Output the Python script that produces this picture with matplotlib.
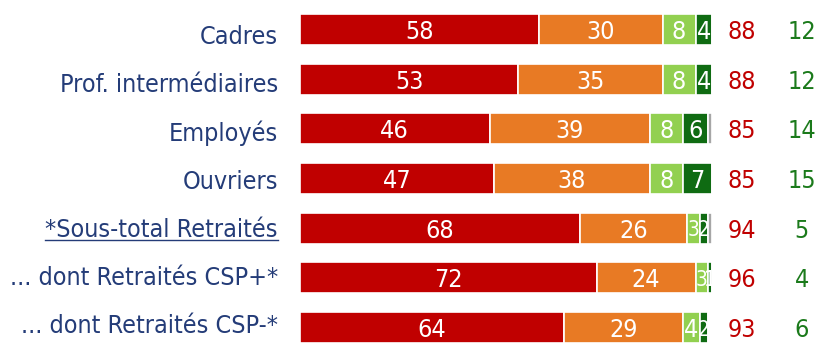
import numpy as np
import matplotlib
matplotlib.use('Agg')
import matplotlib.pyplot as plt
from matplotlib.lines import Line2D

#%% data

categories = ['Cadres', 'Prof. intermédiaires', 'Employés', 'Ouvriers',
              '*Sous-total Retraités', '... dont Retraités CSP+*', '... dont Retraités CSP-*']
tout_a_fait = [58, 53, 46, 47, 68, 72, 64]
plutot = [30, 35, 39, 38, 26, 24, 29]
plutot_pas = [8, 8, 8, 8, 3, 3, 4]
pas_du_tout = [4, 4, 6, 7, 2, 1, 2]
nsp = [0, 0, 1, 0, 1, 0, 0]
total_oui = [88, 88, 85, 85, 94, 96, 93]
total_non = [12, 12, 14, 15, 5, 4, 6]

series = [tout_a_fait, plutot, plutot_pas, pas_du_tout, nsp]
colors = ['#C00000', '#E87A24', '#92D050', '#0F6B12', '#A6A6A6']
navy = '#243C78'

plt.rcParams['font.family'] = ['DejaVu Sans']
plt.rcParams['font.stretch'] = 'condensed'
FS = 18

#%% plot

fig = plt.figure(figsize=(8.21, 3.45), dpi=100)
ax = fig.add_axes([300 / 821, 0, 412 / 821, 1])

y = np.arange(len(categories))
left = np.zeros(len(categories))
for vals, col in zip(series, colors):
    vals = np.array(vals, dtype=float)
    bars = ax.barh(y, vals, left=left, height=0.62, color=col,
                   edgecolor='white', linewidth=1.2)
    if col != colors[-1]:
        for b, v in zip(bars, vals):
            if v <= 0:
                continue
            t = ax.text(b.get_x() + b.get_width() / 2, b.get_y() + b.get_height() / 2,
                        f'{int(v)}', ha='center', va='center_baseline', color='white',
                        fontsize=FS if v >= 4 else 15)
            t.set_clip_path(b)
    left += vals

for yi, a, b in zip(y, total_oui, total_non):
    ax.text(107.3, yi, str(a), ha='center', va='center_baseline', color='#C00000',
            fontsize=FS, clip_on=False)
    ax.text(121.8, yi, str(b), ha='center', va='center_baseline', color='#1B7A1B',
            fontsize=FS, clip_on=False)

ax.set_xlim(0, 100)
ax.set_ylim(6.352, -0.594)
# category labels sit on a slightly tighter grid than the bars
ax.set_yticks(0.1 + y * 0.97)
ax.set_yticklabels(categories, fontsize=FS, color=navy)
ax.tick_params(axis='y', length=0, pad=16)
ax.set_xticks([])
for s in ax.spines.values():
    s.set_visible(False)

# underline the sub-total label
fig.canvas.draw()
lab = ax.get_yticklabels()[4]
bb = lab.get_window_extent()
inv = fig.transFigure.inverted()
(x0, y0), (x1, _) = inv.transform([(bb.x0, bb.y0 + 2), (bb.x1, bb.y0 + 2)])
fig.add_artist(Line2D([x0, x1], [y0, y0], color=navy, lw=1))

fig.savefig('out.png', dpi=100)
